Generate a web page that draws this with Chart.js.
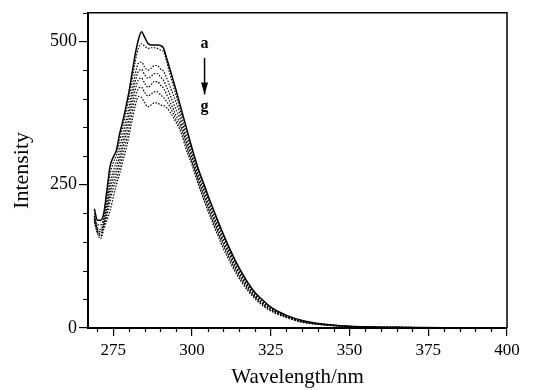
<!DOCTYPE html>
<html>
<head>
<meta charset="utf-8">
<script src="https://cdn.jsdelivr.net/npm/chart.js@4"></script>
<style>
  html, body { margin: 0; padding: 0; background: #fff; }
  #wrap { width: 558px; height: 390px; }
</style>
</head>
<body>
<div id="wrap"><canvas id="canvas-spectra" width="558" height="390"></canvas></div>
<script>
// wavelengths (nm)
const wavelengths = [269,270,271,272,273,274,275,276,277,278,279,280,281,282,283,284,285,286,287,288,289,290,291,292,293,294,295,296,297,298,299,300,
  302,304,306,308,310,312,314,316,318,320,322,324,326,328,330,335,340,350,360,370,380,390,400];

// intensities, curves a..g
const curveA = [208,188,188,200,240,282,298,310,338,360,385,412,445,478,503,517,507,497,494,494,494,493,488,470,452,433,414,394,374,354,334,314,
  278,248,218,190,163,138,115,95,77,62,51,41,33,27,22,13,8,3,1.5,1,0.5,0.3,0];
const curveB = [200,180,180,192,228,268,288,302,326,350,375,402,432,465,488,496,492,488,489,489,488,485,482,464,443,424,405,386,366,346,327,308,
  272,242,213,185,159,134,111,92,74,60,48,39,32,26,21,12,7.5,3,1.5,1,0.5,0.3,0];
const curveC = [196,175,172,186,218,252,274,290,312,336,360,386,415,443,462,464,455,450,453,458,458,452,448,436,422,408,393,377,358,338,319,302,
  267,237,208,180,154,130,107,89,72,58,46,38,31,25,20.5,11.5,7,2.8,1.4,0.9,0.5,0.3,0];
const curveD = [193,172,168,182,210,242,264,280,300,324,348,374,403,430,448,451,442,436,439,444,444,438,432,420,407,394,380,368,351,332,314,298,
  263,233,204,176,151,127,105,87,70,56,45,37,30,24.5,20,11,7,2.7,1.3,0.8,0.5,0.3,0];
const curveE = [190,170,164,179,203,232,254,270,290,313,336,362,390,416,433,436,427,420,424,430,430,424,418,407,395,383,370,360,345,327,309,294,
  259,229,200,173,147,124,102,84,68,55,44,36,29,24,19.5,10.8,6.8,2.6,1.3,0.8,0.5,0.3,0];
const curveF = [188,168,160,176,196,222,244,260,279,301,323,348,376,402,418,420,411,405,408,412,412,407,402,395,386,375,363,354,339,321,304,289,
  255,224,195,169,143,120,99,81,66,53,42.5,34.5,28,23,18.7,10.4,6.5,2.5,1.2,0.8,0.5,0.3,0];
const curveG = [185,165,156,172,188,205,228,250,268,290,310,335,362,388,404,402,393,386,389,393,393,389,388,384,377,368,358,348,333,314,299,285,
  251,220,191,164,138,116,95,78,63,51,41,33,27,22,18,10,6.2,2.4,1.2,0.8,0.5,0.3,0];

const curves = [curveA, curveB, curveC, curveD, curveE, curveF, curveG];
const curveNames = ["a", "b", "c", "d", "e", "f", "g"];

// axis ticks
const xTicks = [275, 300, 325, 350, 375, 400];
const yTicks = [0, 250, 500];
const xMinorStep = 5;
const yMinorStep = 50;

// a -> g arrow label, in data units
const arrowWl = 304;
const arrowTop = 478;
const arrowBottom = 404;

const serif = "'Liberation Serif', 'DejaVu Serif', serif";

const frameAndMinorTicks = {
  id: "frameAndMinorTicks",
  afterDraw(chart) {
    const { ctx, chartArea, scales } = chart;
    const x = scales.x;
    const y = scales.y;
    ctx.save();
    ctx.strokeStyle = "#000";
    ctx.lineWidth = 1.5;
    // top + right frame
    ctx.beginPath();
    ctx.moveTo(chartArea.left, chartArea.top);
    ctx.lineTo(chartArea.right, chartArea.top);
    ctx.lineTo(chartArea.right, chartArea.bottom);
    ctx.stroke();

    // minor ticks
    ctx.lineWidth = 1.2;
    ctx.beginPath();
    for (let v = Math.ceil(x.min / xMinorStep) * xMinorStep; v <= x.max; v += xMinorStep) {
      if (xTicks.includes(v)) continue;
      const px = Math.round(x.getPixelForValue(v)) + 0.5;
      ctx.moveTo(px, chartArea.bottom);
      ctx.lineTo(px, chartArea.bottom + 4);
    }
    for (let v = 0; v <= y.max; v += yMinorStep) {
      if (yTicks.includes(v)) continue;
      const py = Math.round(y.getPixelForValue(v)) + 0.5;
      ctx.moveTo(chartArea.left, py);
      ctx.lineTo(chartArea.left - 5, py);
    }
    ctx.stroke();

    // a -> g arrow
    const ax = x.getPixelForValue(arrowWl);
    const yTop = y.getPixelForValue(arrowTop);
    const yBot = y.getPixelForValue(arrowBottom);
    ctx.fillStyle = "#000";
    ctx.font = "bold 16px " + serif;
    ctx.textAlign = "center";
    ctx.textBaseline = "bottom";
    ctx.fillText("a", ax, yTop - 2);
    ctx.textBaseline = "top";
    ctx.fillText("g", ax, yBot + 2);
    ctx.lineWidth = 1.5;
    ctx.beginPath();
    ctx.moveTo(ax, yTop + 4);
    ctx.lineTo(ax, yBot - 2);
    ctx.stroke();
    ctx.beginPath();
    ctx.moveTo(ax - 3.5, yBot - 14);
    ctx.lineTo(ax + 3.5, yBot - 14);
    ctx.lineTo(ax, yBot - 2);
    ctx.closePath();
    ctx.fill();
    ctx.restore();
  },
};

const ctx = document.getElementById("canvas-spectra");

new Chart(ctx, {
  type: "line",
  data: {
    labels: wavelengths,
    datasets: curves.map((vals, i) => ({
      label: curveNames[i],
      data: vals.map((v, j) => ({ x: wavelengths[j], y: v })),
      borderColor: "#000",
      borderWidth: i === 0 ? 1.5 : 1.2,
      borderDash: i === 0 ? [] : [1.5, 1.5],
      pointRadius: 0,
      fill: false,
      cubicInterpolationMode: "monotone",
    })),
  },
  options: {
    responsive: false,
    animation: false,
    layout: { padding: { top: 11, right: 51, left: 0, bottom: 0 } },
    plugins: {
      legend: { display: false },
      tooltip: { enabled: false },
    },
    scales: {
      x: {
        type: "linear",
        min: 267,
        max: 400,
        afterBuildTicks: (scale) => {
          scale.ticks = xTicks.map((v) => ({ value: v }));
        },
        afterFit: (scale) => {
          scale.height = 62;
        },
        grid: { drawOnChartArea: false, tickLength: 8, color: "#000", lineWidth: 1.2 },
        border: { color: "#000", width: 2 },
        ticks: { color: "#000", padding: 4, maxRotation: 0, font: { family: serif, size: 17 } },
        title: {
          display: true,
          text: "Wavelength/nm",
          color: "#000",
          padding: { top: -2, bottom: 0 },
          font: { family: serif, size: 21 },
        },
      },
      y: {
        type: "linear",
        min: 0,
        max: 550,
        afterBuildTicks: (scale) => {
          scale.ticks = yTicks.map((v) => ({ value: v }));
        },
        afterFit: (scale) => {
          scale.width = 88;
        },
        grid: { drawOnChartArea: false, tickLength: 9, color: "#000", lineWidth: 1.2 },
        border: { color: "#000", width: 2 },
        ticks: { color: "#000", padding: 2, font: { family: serif, size: 18 } },
        title: {
          display: true,
          text: "Intensity",
          color: "#000",
          padding: { top: 9, bottom: 0 },
          font: { family: serif, size: 22 },
        },
      },
    },
  },
  plugins: [frameAndMinorTicks],
});
</script>
</body>
</html>
